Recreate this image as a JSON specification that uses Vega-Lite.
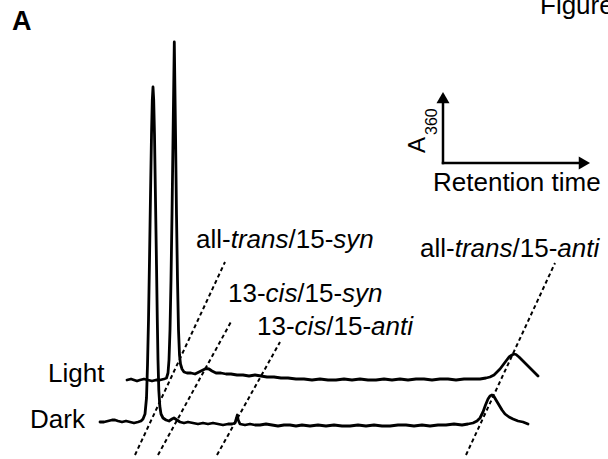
{
  "$schema": "https://vega.github.io/schema/vega-lite/v6.json",
  "width": 608,
  "height": 459,
  "autosize": "none",
  "padding": 0,
  "background": "white",
  "config": {"view": {"stroke": null}},
  "datasets": {
    "traces": [
      {"trace":"Dark","x":100,"y":422},{"trace":"Dark","x":104,"y":422},{"trace":"Dark","x":108,"y":421},{"trace":"Dark","x":112,"y":420},{"trace":"Dark","x":115,"y":420},{"trace":"Dark","x":118,"y":421},{"trace":"Dark","x":122,"y":422},{"trace":"Dark","x":126,"y":421},{"trace":"Dark","x":130,"y":422},{"trace":"Dark","x":134,"y":423},{"trace":"Dark","x":138,"y":422},{"trace":"Dark","x":141,"y":421},{"trace":"Dark","x":143,"y":419},{"trace":"Dark","x":145,"y":414},{"trace":"Dark","x":146.5,"y":398},{"trace":"Dark","x":147.5,"y":365},{"trace":"Dark","x":148.5,"y":320},{"trace":"Dark","x":149.5,"y":260},{"trace":"Dark","x":150.5,"y":195},{"trace":"Dark","x":151.5,"y":135},{"trace":"Dark","x":152.3,"y":100},{"trace":"Dark","x":153,"y":87},{"trace":"Dark","x":153.7,"y":100},{"trace":"Dark","x":154.5,"y":135},{"trace":"Dark","x":155.5,"y":200},{"trace":"Dark","x":156.5,"y":265},{"trace":"Dark","x":157.3,"y":320},{"trace":"Dark","x":158,"y":360},{"trace":"Dark","x":158.8,"y":390},{"trace":"Dark","x":159.8,"y":406},{"trace":"Dark","x":161,"y":414},{"trace":"Dark","x":163,"y":418},{"trace":"Dark","x":166,"y":420},{"trace":"Dark","x":169,"y":421},{"trace":"Dark","x":172,"y":419},{"trace":"Dark","x":174,"y":418},{"trace":"Dark","x":177,"y":420},{"trace":"Dark","x":180,"y":422},{"trace":"Dark","x":184,"y":423},{"trace":"Dark","x":188,"y":422},{"trace":"Dark","x":193,"y":423},{"trace":"Dark","x":198,"y":424},{"trace":"Dark","x":203,"y":423},{"trace":"Dark","x":208,"y":424},{"trace":"Dark","x":213,"y":423},{"trace":"Dark","x":218,"y":424},{"trace":"Dark","x":223,"y":425},{"trace":"Dark","x":228,"y":424},{"trace":"Dark","x":232,"y":424},{"trace":"Dark","x":235,"y":423},{"trace":"Dark","x":236.5,"y":418},{"trace":"Dark","x":237.3,"y":415},{"trace":"Dark","x":238.2,"y":420},{"trace":"Dark","x":240,"y":424},{"trace":"Dark","x":245,"y":425},{"trace":"Dark","x":250,"y":424},{"trace":"Dark","x":255,"y":425},{"trace":"Dark","x":260,"y":425},{"trace":"Dark","x":266,"y":424},{"trace":"Dark","x":272,"y":425},{"trace":"Dark","x":278,"y":426},{"trace":"Dark","x":284,"y":425},{"trace":"Dark","x":290,"y":425},{"trace":"Dark","x":296,"y":426},{"trace":"Dark","x":302,"y":425},{"trace":"Dark","x":310,"y":426},{"trace":"Dark","x":318,"y":425},{"trace":"Dark","x":326,"y":426},{"trace":"Dark","x":334,"y":425},{"trace":"Dark","x":342,"y":426},{"trace":"Dark","x":350,"y":426},{"trace":"Dark","x":358,"y":425},{"trace":"Dark","x":366,"y":426},{"trace":"Dark","x":374,"y":425},{"trace":"Dark","x":382,"y":426},{"trace":"Dark","x":390,"y":426},{"trace":"Dark","x":398,"y":425},{"trace":"Dark","x":406,"y":425},{"trace":"Dark","x":414,"y":426},{"trace":"Dark","x":422,"y":425},{"trace":"Dark","x":430,"y":426},{"trace":"Dark","x":438,"y":425},{"trace":"Dark","x":446,"y":425},{"trace":"Dark","x":454,"y":424},{"trace":"Dark","x":462,"y":425},{"trace":"Dark","x":468,"y":424},{"trace":"Dark","x":473,"y":423},{"trace":"Dark","x":477,"y":421},{"trace":"Dark","x":480,"y":418},{"trace":"Dark","x":483,"y":412},{"trace":"Dark","x":485.5,"y":405},{"trace":"Dark","x":488,"y":399},{"trace":"Dark","x":490,"y":396},{"trace":"Dark","x":492,"y":395},{"trace":"Dark","x":494,"y":396.5},{"trace":"Dark","x":496,"y":400},{"trace":"Dark","x":499,"y":405},{"trace":"Dark","x":502,"y":410},{"trace":"Dark","x":505,"y":414},{"trace":"Dark","x":509,"y":417},{"trace":"Dark","x":513,"y":419},{"trace":"Dark","x":518,"y":421},{"trace":"Dark","x":523,"y":422},{"trace":"Dark","x":528,"y":424},
      {"trace":"Light","x":127,"y":380},{"trace":"Light","x":131,"y":379},{"trace":"Light","x":134,"y":380},{"trace":"Light","x":137,"y":381},{"trace":"Light","x":140,"y":380},{"trace":"Light","x":144,"y":379},{"trace":"Light","x":148,"y":380},{"trace":"Light","x":152,"y":381},{"trace":"Light","x":156,"y":380},{"trace":"Light","x":160,"y":380},{"trace":"Light","x":164,"y":379},{"trace":"Light","x":166.5,"y":378},{"trace":"Light","x":168,"y":373},{"trace":"Light","x":169,"y":360},{"trace":"Light","x":170,"y":330},{"trace":"Light","x":171,"y":280},{"trace":"Light","x":172,"y":215},{"trace":"Light","x":173,"y":140},{"trace":"Light","x":173.8,"y":80},{"trace":"Light","x":174.3,"y":42},{"trace":"Light","x":174.8,"y":80},{"trace":"Light","x":175.6,"y":140},{"trace":"Light","x":176.5,"y":215},{"trace":"Light","x":177.5,"y":280},{"trace":"Light","x":178.5,"y":330},{"trace":"Light","x":179.5,"y":355},{"trace":"Light","x":180.5,"y":364},{"trace":"Light","x":182,"y":369},{"trace":"Light","x":184,"y":372},{"trace":"Light","x":187,"y":373},{"trace":"Light","x":191,"y":373},{"trace":"Light","x":195,"y":374},{"trace":"Light","x":199,"y":372},{"trace":"Light","x":203,"y":370},{"trace":"Light","x":206,"y":368.5},{"trace":"Light","x":209,"y":369},{"trace":"Light","x":212,"y":371},{"trace":"Light","x":216,"y":373},{"trace":"Light","x":221,"y":373},{"trace":"Light","x":226,"y":374},{"trace":"Light","x":231,"y":374},{"trace":"Light","x":237,"y":375},{"trace":"Light","x":243,"y":375},{"trace":"Light","x":249,"y":376},{"trace":"Light","x":255,"y":375},{"trace":"Light","x":261,"y":376},{"trace":"Light","x":267,"y":377},{"trace":"Light","x":274,"y":377},{"trace":"Light","x":281,"y":378},{"trace":"Light","x":288,"y":378},{"trace":"Light","x":296,"y":379},{"trace":"Light","x":304,"y":379},{"trace":"Light","x":312,"y":380},{"trace":"Light","x":320,"y":379},{"trace":"Light","x":328,"y":380},{"trace":"Light","x":336,"y":380},{"trace":"Light","x":344,"y":379},{"trace":"Light","x":352,"y":380},{"trace":"Light","x":360,"y":379},{"trace":"Light","x":368,"y":380},{"trace":"Light","x":376,"y":380},{"trace":"Light","x":384,"y":379},{"trace":"Light","x":392,"y":380},{"trace":"Light","x":400,"y":379},{"trace":"Light","x":408,"y":380},{"trace":"Light","x":416,"y":379},{"trace":"Light","x":424,"y":379},{"trace":"Light","x":432,"y":380},{"trace":"Light","x":440,"y":379},{"trace":"Light","x":448,"y":379},{"trace":"Light","x":456,"y":380},{"trace":"Light","x":464,"y":379},{"trace":"Light","x":472,"y":379},{"trace":"Light","x":480,"y":379},{"trace":"Light","x":486,"y":378},{"trace":"Light","x":490,"y":377},{"trace":"Light","x":494,"y":375},{"trace":"Light","x":497,"y":372},{"trace":"Light","x":500,"y":369},{"trace":"Light","x":503,"y":365},{"trace":"Light","x":506,"y":361},{"trace":"Light","x":509,"y":357},{"trace":"Light","x":512,"y":355},{"trace":"Light","x":514,"y":354},{"trace":"Light","x":516,"y":354.5},{"trace":"Light","x":519,"y":357},{"trace":"Light","x":522,"y":360},{"trace":"Light","x":525,"y":363},{"trace":"Light","x":528,"y":366},{"trace":"Light","x":531,"y":369},{"trace":"Light","x":534,"y":372},{"trace":"Light","x":538,"y":376}
    ],
    "guides": [
      {"id":"all-trans/15-syn","x":135,"y":455,"x2":225,"y2":262},
      {"id":"13-cis/15-syn","x":158,"y":455,"x2":232,"y2":320},
      {"id":"13-cis/15-anti","x":217,"y":455,"x2":280,"y2":342},
      {"id":"all-trans/15-anti","x":466,"y":455,"x2":555,"y2":263}
    ],
    "axes": [
      {"id":"A360","x":443,"y":163,"x2":443,"y2":102},
      {"id":"time","x":443,"y":163,"x2":580,"y2":163}
    ],
    "heads": [
      {"id":"A360","x":443,"y":97.6,"shape":"triangle-up"},
      {"id":"time","x":584.4,"y":163,"shape":"triangle-right"}
    ],
    "texts": [
      {"txt":"all-","x":196,"y":248,"style":"n","size":26,"angle":0},
      {"txt":"trans","x":230.7,"y":248,"style":"i","size":26,"angle":0},
      {"txt":"/15-","x":288.5,"y":248,"style":"n","size":26,"angle":0},
      {"txt":"syn","x":333.3,"y":248,"style":"i","size":26,"angle":0},
      {"txt":"13-","x":228,"y":302,"style":"n","size":26,"angle":0},
      {"txt":"cis","x":265.6,"y":302,"style":"i","size":26,"angle":0},
      {"txt":"/15-","x":297.3,"y":302,"style":"n","size":26,"angle":0},
      {"txt":"syn","x":342.1,"y":302,"style":"i","size":26,"angle":0},
      {"txt":"13-","x":257,"y":335,"style":"n","size":26,"angle":0},
      {"txt":"cis","x":294.6,"y":335,"style":"i","size":26,"angle":0},
      {"txt":"/15-","x":326.3,"y":335,"style":"n","size":26,"angle":0},
      {"txt":"anti","x":371.1,"y":335,"style":"i","size":26,"angle":0},
      {"txt":"all-","x":420,"y":257,"style":"n","size":26,"angle":0},
      {"txt":"trans","x":454.7,"y":257,"style":"i","size":26,"angle":0},
      {"txt":"/15-","x":512.5,"y":257,"style":"n","size":26,"angle":0},
      {"txt":"anti","x":557.3,"y":257,"style":"i","size":26,"angle":0},
      {"txt":"Light","x":48,"y":382,"style":"n","size":26,"angle":0},
      {"txt":"Dark","x":30,"y":428,"style":"n","size":26,"angle":0},
      {"txt":"Retention time","x":433,"y":191,"style":"n","size":26,"angle":0},
      {"txt":"A","x":425,"y":153,"style":"n","size":24,"angle":270},
      {"txt":"360","x":437,"y":135,"style":"n","size":16,"angle":270},
      {"txt":"Figure","x":540,"y":14,"style":"n","size":26,"angle":0},
      {"txt":"A","x":12,"y":30,"style":"b","size":27,"angle":0}
    ]
  },
  "layer": [
    {
      "data": {"name": "guides"},
      "mark": {"type": "rule", "color": "black", "strokeWidth": 2, "strokeDash": [4, 3]},
      "encoding": {
        "x": {"field": "x", "type": "quantitative", "scale": {"domain": [0, 608], "nice": false, "zero": false}, "axis": null},
        "y": {"field": "y", "type": "quantitative", "scale": {"domain": [0, 459], "reverse": true, "nice": false, "zero": false}, "axis": null},
        "x2": {"field": "x2"},
        "y2": {"field": "y2"}
      }
    },
    {
      "data": {"name": "traces"},
      "mark": {"type": "line", "color": "black", "strokeWidth": 2.8, "strokeJoin": "round", "strokeCap": "round"},
      "encoding": {
        "x": {"field": "x", "type": "quantitative"},
        "y": {"field": "y", "type": "quantitative"},
        "detail": {"field": "trace", "type": "nominal"}
      }
    },
    {
      "data": {"name": "axes"},
      "mark": {"type": "rule", "color": "black", "strokeWidth": 2.5, "strokeCap": "square"},
      "encoding": {
        "x": {"field": "x", "type": "quantitative"},
        "y": {"field": "y", "type": "quantitative"},
        "x2": {"field": "x2"},
        "y2": {"field": "y2"}
      }
    },
    {
      "data": {"name": "heads"},
      "mark": {"type": "point", "filled": true, "color": "black", "opacity": 1, "size": 170, "strokeWidth": 0},
      "encoding": {
        "x": {"field": "x", "type": "quantitative"},
        "y": {"field": "y", "type": "quantitative"},
        "shape": {"field": "shape", "type": "nominal", "scale": null}
      }
    },
    {
      "data": {"name": "texts"},
      "transform": [{"filter": "datum.style === 'n'"}],
      "mark": {"type": "text", "font": "Liberation Sans", "align": "left", "baseline": "alphabetic", "color": "black"},
      "encoding": {
        "x": {"field": "x", "type": "quantitative"},
        "y": {"field": "y", "type": "quantitative"},
        "text": {"field": "txt"},
        "size": {"field": "size", "type": "quantitative", "scale": null},
        "angle": {"field": "angle", "type": "quantitative", "scale": null}
      }
    },
    {
      "data": {"name": "texts"},
      "transform": [{"filter": "datum.style === 'i'"}],
      "mark": {"type": "text", "font": "Liberation Sans", "fontStyle": "italic", "align": "left", "baseline": "alphabetic", "color": "black"},
      "encoding": {
        "x": {"field": "x", "type": "quantitative"},
        "y": {"field": "y", "type": "quantitative"},
        "text": {"field": "txt"},
        "size": {"field": "size", "type": "quantitative", "scale": null}
      }
    },
    {
      "data": {"name": "texts"},
      "transform": [{"filter": "datum.style === 'b'"}],
      "mark": {"type": "text", "font": "Liberation Sans", "fontWeight": "bold", "align": "left", "baseline": "alphabetic", "color": "black"},
      "encoding": {
        "x": {"field": "x", "type": "quantitative"},
        "y": {"field": "y", "type": "quantitative"},
        "text": {"field": "txt"},
        "size": {"field": "size", "type": "quantitative", "scale": null}
      }
    }
  ]
}
